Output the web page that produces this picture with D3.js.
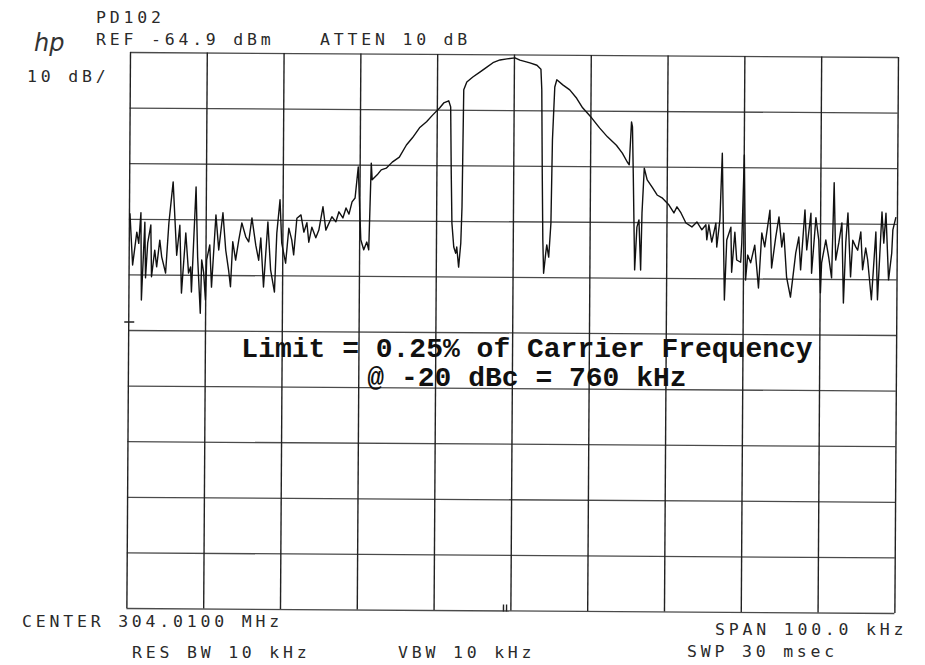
<!DOCTYPE html>
<html>
<head>
<meta charset="utf-8">
<script src="https://cdn.jsdelivr.net/npm/d3@7/dist/d3.min.js"></script>
<style>
  html, body { margin: 0; padding: 0; background: #ffffff; }
  svg { display: block; }
  .plot-text { font-family: "DejaVu Sans Mono", monospace; font-size: 16.5px; fill: #2a2a2a; letter-spacing: 3.8px; }
  .note { font-family: "Liberation Mono", "Courier New", monospace; font-weight: bold; font-size: 28px; fill: #111; }
</style>
</head>
<body>
<script>
// ---- Data ----
// Frequency offset from centre (kHz), span 100 kHz
const freqKHz = [
  -49.87,-49.48,-48.96,-48.70,-48.44,-48.31,-47.92,-47.79,-47.53,-47.14,
  -47.01,-46.61,-46.35,-45.96,-45.70,-45.18,-44.79,-44.27,-43.75,-43.36,
  -43.10,-42.58,-42.19,-41.93,-41.80,-41.28,-41.02,-40.63,-40.49,-40.23,
  -39.97,-39.84,-39.45,-39.19,-38.67,-38.28,-37.76,-37.37,-36.98,-36.72,
  -36.46,-36.07,-35.68,-35.29,-34.77,-34.38,-33.98,-33.46,-33.07,-32.81,
  -32.42,-31.90,-31.51,-30.99,-30.73,-30.34,-30.08,-29.56,-29.17,-28.78,
  -28.52,-28.13,-27.60,-27.21,-26.82,-26.56,-26.17,-25.65,-25.26,-24.74,
  -24.35,-23.57,-23.05,-22.66,-22.14,-21.74,-21.35,-20.96,-20.57,-20.18,
  -19.79,-19.40,-19.01,-18.75,-18.49,-18.36,-17.71,-17.19,-16.54,-15.76,
  -14.84,-13.93,-13.15,-12.24,-11.33,-10.55,-9.64,-9.11,-8.46,-8.20,
  -8.07,-7.94,-7.68,-7.42,-7.29,-7.03,-6.77,-6.64,-6.51,-6.12,
  -5.34,-4.43,-3.52,-2.73,-1.82,-0.91,0.13,0.78,2.08,3.00,
  3.52,3.65,3.78,3.91,4.04,4.30,4.43,4.69,4.95,5.08,
  5.34,5.60,6.38,7.29,8.20,8.98,10.16,11.20,12.24,13.41,
  14.19,14.84,15.10,15.36,15.49,15.63,15.89,16.15,16.41,16.67,
  16.80,17.06,17.45,18.10,18.75,19.40,20.31,20.96,21.35,21.88,
  22.53,23.31,23.96,24.61,25.13,25.26,25.52,25.91,26.43,26.56,
  26.95,27.21,27.60,27.86,28.39,28.52,28.91,29.17,29.69,29.82,
  30.08,30.34,30.60,30.99,31.51,32.03,32.42,32.81,33.46,33.72,
  34.24,34.64,35.03,35.29,35.68,36.20,36.46,36.85,37.24,37.50,
  38.02,38.28,38.80,38.93,39.45,39.84,40.10,40.23,40.76,41.15,
  41.54,41.80,42.06,42.45,42.84,43.10,43.36,43.62,44.01,44.27,
  44.66,44.92,45.31,45.57,45.96,46.22,46.74,47.27,47.53,48.05,
  48.31,48.57,48.96,49.35,49.48,49.87
];
// Trace level (dBm)
const levelDBm = [
  -93.9,-103.2,-97.3,-99.3,-93.8,-109.5,-95.5,-105.5,-99.2,-96.0,
  -105.3,-100.5,-103.5,-98.7,-101.7,-104.6,-95.6,-88.2,-101.4,-96.0,
  -108.2,-97.4,-104.6,-103.5,-108.0,-89.1,-101.7,-111.8,-102.2,-104.4,
  -109.4,-102.2,-99.5,-107.1,-94.1,-100.4,-93.7,-100.4,-104.0,-107.0,
  -98.9,-102.2,-98.6,-95.5,-98.0,-98.9,-94.6,-99.5,-102.2,-98.2,
  -107.0,-95.3,-103.9,-107.9,-97.3,-91.3,-99.1,-102.7,-96.4,-98.5,
  -101.2,-94.6,-94.0,-97.1,-95.4,-98.9,-96.2,-98.1,-96.7,-92.5,
  -96.7,-94.3,-95.2,-93.4,-94.5,-92.7,-93.8,-91.6,-90.9,-85.3,
  -98.4,-100.2,-98.8,-100.2,-84.6,-87.6,-86.7,-85.8,-85.5,-84.4,
  -83.5,-81.3,-80.0,-78.2,-77.1,-75.9,-74.6,-73.7,-73.3,-74.4,
  -86.3,-95.3,-99.6,-100.7,-99.6,-103.2,-98.9,-92.4,-71.3,-69.9,
  -69.0,-68.1,-67.2,-66.4,-65.9,-65.7,-65.5,-65.9,-66.4,-66.8,
  -67.5,-71.2,-86.2,-98.2,-104.2,-100.6,-99.1,-101.3,-95.2,-80.2,
  -70.7,-69.4,-70.3,-71.2,-72.7,-74.4,-76.2,-78.0,-79.6,-81.1,
  -82.5,-84.1,-84.6,-76.9,-77.8,-86.1,-103.5,-95.8,-94.5,-103.5,
  -93.3,-85.2,-87.3,-88.6,-90.0,-90.5,-91.8,-93.2,-92.1,-93.2,
  -95.0,-95.7,-94.8,-96.2,-95.3,-98.0,-95.3,-98.4,-95.0,-99.3,
  -94.4,-82.4,-108.8,-98.0,-95.7,-103.8,-96.6,-101.6,-102.0,-98.5,
  -82.7,-105.2,-100.7,-102.1,-98.9,-106.6,-96.7,-99.2,-92.6,-103.0,
  -97.4,-93.8,-99.2,-96.7,-104.6,-108.2,-105.1,-100.3,-97.4,-103.3,
  -92.5,-99.7,-93.1,-103.9,-93.9,-97.9,-107.4,-102.0,-97.9,-101.0,
  -104.7,-87.6,-101.5,-98.4,-94.8,-109.2,-98.4,-93.0,-104.5,-97.9,
  -99.1,-99.7,-96.4,-103.2,-99.3,-101.4,-108.6,-96.4,-108.6,-92.8,
  -98.4,-93.0,-105.0,-100.2,-96.0,-93.7
];
// Graticule ticks
const freqTicks = [-50,-40,-30,-20,-10,0,10,20,30,40,50];
const levelTicks = [-164.9,-154.9,-144.9,-134.9,-124.9,-114.9,-104.9,-94.9,-84.9,-74.9,-64.9];

// Header / footer annotation texts
const headerTexts = [
  {t: "PD102", x: 96, y: 23},
  {t: "REF -64.9 dBm", x: 96, y: 45},
  {t: "ATTEN 10 dB", x: 320, y: 45},
  {t: "10 dB/", x: 27, y: 82},
  {t: "CENTER 304.0100 MHz", x: 22, y: 627},
  {t: "RES BW 10 kHz", x: 132, y: 658},
  {t: "VBW 10 kHz", x: 398, y: 658},
  {t: "SPAN 100.0 kHz", x: 715, y: 635},
  {t: "SWP 30 msec", x: 687, y: 657}
];
const noteLines = ["Limit = 0.25% of Carrier Frequency", "@ -20 dBc = 760 kHz"];

// ---- Drawing ----
const W = 925, H = 665;
const pL = 130, pR = 898, pT = 52, pB = 608;

const svg = d3.select("body").append("svg").attr("width", W).attr("height", H);
svg.append("rect").attr("width", W).attr("height", H).attr("fill", "#ffffff");

const x = d3.scaleLinear().domain([-50, 50]).range([pL, pR]);
const y = d3.scaleLinear().domain([-164.9, -64.9]).range([pB, pT]);

// The scanned plot is slightly rotated
const plot = svg.append("g").attr("transform", `rotate(0.373, ${pL}, ${pT})`);

// horizontal graticule
const yAxis = d3.axisLeft(y).tickValues(levelTicks).tickSize(-(pR - pL)).tickFormat("");
plot.append("g").attr("transform", `translate(${pL},0)`).call(yAxis)
  .call(g => g.select(".domain").remove())
  .call(g => g.selectAll("line").attr("stroke", "#4a4a4a").attr("stroke-width", 1.3));

// vertical graticule
const xAxis = d3.axisBottom(x).tickValues(freqTicks).tickSize(-(pB - pT)).tickFormat("");
plot.append("g").attr("transform", `translate(0,${pB})`).call(xAxis)
  .call(g => g.select(".domain").remove())
  .call(g => g.selectAll("line").attr("stroke", "#222").attr("stroke-width", 1.4));

// small plotter markers
plot.append("line").attr("x1", pL - 4).attr("x2", pL + 6)
  .attr("y1", y(-114.9) - 8).attr("y2", y(-114.9) - 8).attr("stroke", "#222").attr("stroke-width", 1.5);
[-0.9, -0.5].forEach(f => {
  plot.append("line").attr("x1", x(f)).attr("x2", x(f))
    .attr("y1", pB - 6).attr("y2", pB + 1).attr("stroke", "#222").attr("stroke-width", 1.4);
});

// trace
const pts = freqKHz.map((f, i) => [f, levelDBm[i]]);
const line = d3.line().x(d => x(d[0])).y(d => y(d[1]));
plot.append("path").datum(pts).attr("d", line)
  .attr("fill", "none").attr("stroke", "#111").attr("stroke-width", 1.4)
  .attr("stroke-linejoin", "round");

// header/footer texts
svg.selectAll("text.plot-text").data(headerTexts).enter().append("text")
  .attr("class", "plot-text").attr("x", d => d.x).attr("y", d => d.y).text(d => d.t);

// hp logo
svg.append("text").attr("x", 34).attr("y", 51)
  .attr("font-family", "DejaVu Sans").attr("font-style", "italic")
  .attr("font-size", 24).attr("fill", "#333").text("hp");

// annotation
svg.selectAll("text.note").data(noteLines).enter().append("text")
  .attr("class", "note").attr("x", 527).attr("y", (d, i) => 357 + i * 29)
  .attr("text-anchor", "middle").text(d => d);
</script>
</body>
</html>
